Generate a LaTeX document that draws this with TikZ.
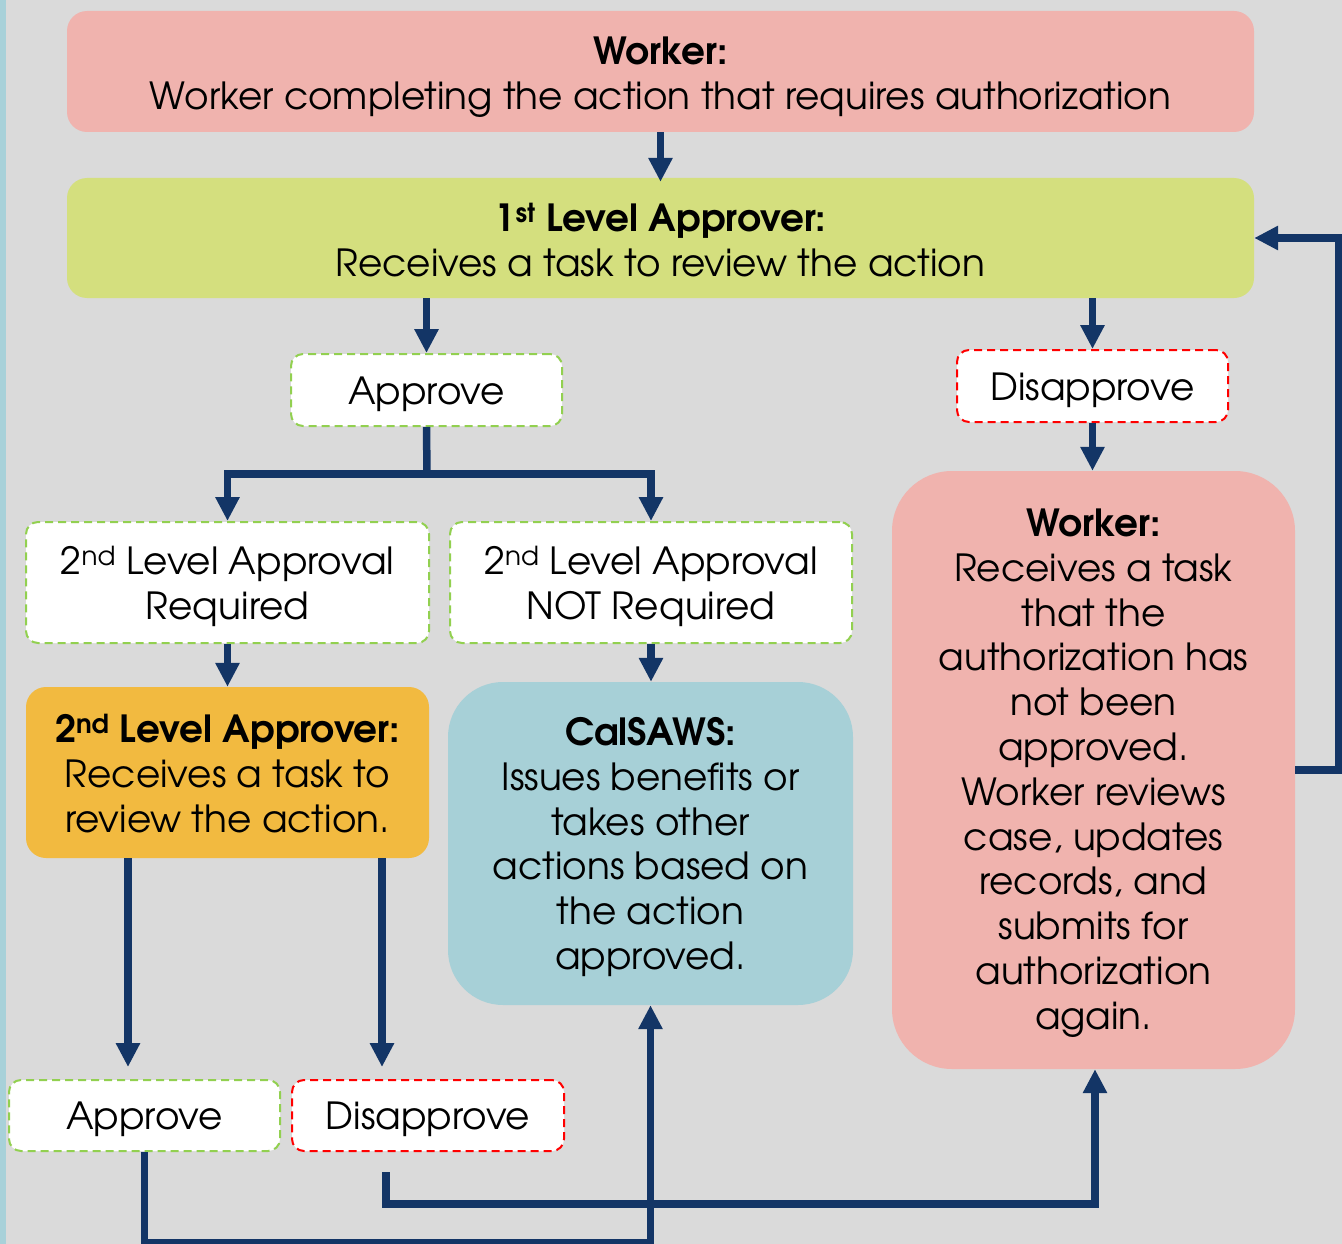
\documentclass[tikz,border=0pt]{standalone}
\usepackage{fontspec}
\setmainfont{texgyreadventor}[Extension=.otf, UprightFont=*-regular, BoldFont=*-bold]
\usetikzlibrary{arrows.meta}
\definecolor{bgc}{HTML}{DADADA}
\definecolor{stripc}{HTML}{A8D1D9}
\definecolor{pinkc}{HTML}{F0B3AE}
\definecolor{limec}{HTML}{D4DF7E}
\definecolor{orangec}{HTML}{F2BA40}
\definecolor{bluec}{HTML}{A7D0D7}
\definecolor{navy}{HTML}{133566}
\definecolor{gdash}{HTML}{92D050}
\definecolor{rdash}{HTML}{FF0000}
\tikzset{
  solidbox/.style={rectangle, rounded corners=20pt, inner sep=0pt},
  optbox/.style={rectangle, rounded corners=12pt, inner sep=0pt, fill=white, line width=2pt, dash pattern=on 8pt off 5pt},
  goodbox/.style={optbox, draw=gdash},
  badbox/.style={optbox, draw=rdash},
  txt/.style={align=center, inner sep=0pt},
  conn/.style={draw=navy, line width=7.5pt},
  arr/.style={conn, -{Triangle[width=23pt,length=24pt]}},
}
\begin{document}
\begin{tikzpicture}[x=1pt,y=-1pt,font=\fontsize{37.4}{44.8}\selectfont]
\useasboundingbox (0,0) rectangle (1342,1244);
\fill[bgc] (0,0) rectangle (1342,1244);
\fill[stripc] (0,0) rectangle (6,1244);

\node[solidbox, fill=pinkc, minimum width=1187pt, minimum height=121pt] (w1) at (660.5,71.5) {};
\node[txt] (w1t) at ([yshift=-6pt]w1.center)
  {\textbf{Worker:}\\Worker completing the action that requires authorization};
\node[solidbox, fill=limec, minimum width=1187pt, minimum height=120pt] (l1) at (660.5,238) {};
\node[txt] (l1t) at ([yshift=-2pt]l1.center)
  {\textbf{1\textsuperscript{st} Level Approver:}\\Receives a task to review the action};
\node[goodbox, minimum width=271pt, minimum height=72pt] (ap1) at (426.5,390) {};
\node[txt] (ap1t) at ([yshift=-4pt]ap1.center) {Approve};
\node[badbox, minimum width=271pt, minimum height=72pt] (dis1) at (1092.5,386) {};
\node[txt] (dis1t) at ([yshift=-4pt]dis1.center) {Disapprove};
\node[solidbox, rounded corners=60pt, fill=pinkc, minimum width=403pt, minimum height=598pt] (w2) at (1093.5,770) {};
\node[txt] (w2t) at ([yshift=-3pt]w2.center)
  {\textbf{Worker:}\\Receives a task\\that the\\authorization has\\not been\\approved.\\Worker reviews\\case, updates\\records, and\\submits for\\authorization\\again.};
\node[goodbox, minimum width=403pt, minimum height=121pt] (req) at (227.5,582.5) {};
\node[txt] (reqt) at ([yshift=-4pt]req.center) {2\textsuperscript{nd} Level Approval\\Required};
\node[goodbox, minimum width=402pt, minimum height=121pt] (nreq) at (651,582.5) {};
\node[txt] (nreqt) at ([yshift=-4pt]nreq.center) {2\textsuperscript{nd} Level Approval\\NOT Required};
\node[solidbox, fill=orangec, minimum width=403pt, minimum height=171pt] (ap2) at (227.5,772.5) {};
\node[txt] (ap2t) at ([yshift=-1pt]ap2.center)
  {\textbf{2\textsuperscript{nd} Level Approver:}\\Receives a task to\\review the action.};
\node[solidbox, rounded corners=55pt, fill=bluec, minimum width=405pt, minimum height=323pt] (cal) at (650.5,843.5) {};
\node[txt] (calt) at ([yshift=-3.5pt]cal.center)
  {\textbf{CalSAWS:}\\Issues benefits or\\takes other\\actions based on\\the action\\approved.};
\node[goodbox, minimum width=271pt, minimum height=71pt] (apB) at (144.5,1115.5) {};
\node[txt] (apBt) at ([yshift=-4pt]apB.center) {Approve};
\node[badbox, minimum width=272pt, minimum height=71pt] (disB) at (428,1115.5) {};
\node[txt] (disBt) at ([yshift=-4pt]disB.center) {Disapprove};

\coordinate (sp) at (427,474);

\draw[arr, shorten >=-4pt] (w1.south) -- (l1.north);
\draw[arr] (ap1.north |- l1.south) -- (ap1.north);
\draw[arr] (dis1.north |- l1.south) -- (dis1.north);
\draw[arr] (dis1.south) -- (dis1.south |- w2.north);
\draw[arr] (w2.east) -- (1339,770) |- (l1.east);
\draw[conn] (ap1.south) -- (sp);
\draw[arr] (sp) -| (req.north);
\draw[arr] (sp) -| (nreq.north);
\draw[arr] (req.south) -- (ap2.north);
\draw[arr] (nreq.south) -- (nreq.south |- cal.north);
\draw[arr, shorten >=12pt] ([xshift=-99.5pt]ap2.south) -- ([xshift=-99.5pt]ap2.south |- apB.north);
\draw[arr, shorten >=12pt] ([xshift=154.5pt]ap2.south) -- ([xshift=154.5pt]ap2.south |- disB.north);
\draw[arr] (apB.south) -- (apB.south |- 0,1243) -| (cal.south);
\draw[arr] ([xshift=-42pt,yshift=-20pt]disB.south) -- ([xshift=-42pt]disB.south |- 0,1204) -| ([xshift=1.5pt]w2.south);
\end{tikzpicture}
\end{document}
